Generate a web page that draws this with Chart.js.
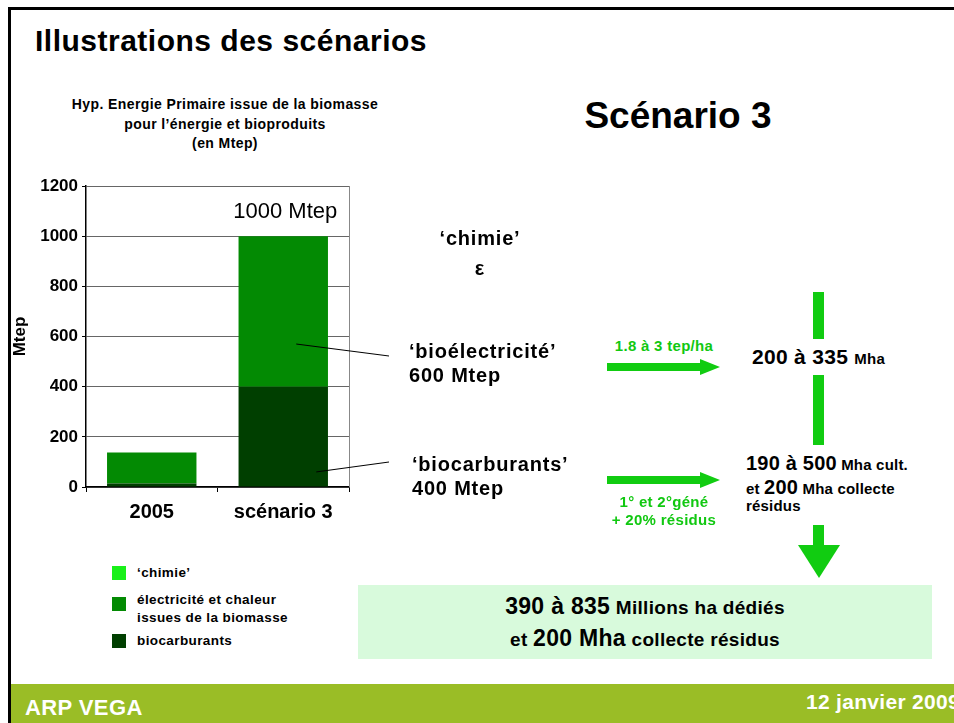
<!DOCTYPE html>
<html lang="fr">
<head>
<meta charset="utf-8">
<script src="https://cdn.jsdelivr.net/npm/chart.js@4.4.1/dist/chart.umd.min.js"></script>
<style>
  html, body { margin: 0; padding: 0; background: #fff; }
  body { width: 954px; height: 723px; position: relative; overflow: hidden; font-family: 'Liberation Sans', Arial, sans-serif; font-weight: bold; color: #000; }
  .abs { position: absolute; white-space: nowrap; }
  .frameTop { left: 8px; top: 7px; width: 946px; height: 3px; background: #000; }
  .frameLeft { left: 8px; top: 7px; width: 3px; height: 716px; background: #000; }
  .footer { left: 11px; top: 684px; width: 943px; height: 39px; background: #9abd26; color: #fff; }
  .title { left: 35px; top: 24px; font-size: 30px; letter-spacing: 0.5px; }
  .sub { left: 30px; top: 95px; width: 390px; text-align: center; font-size: 14px; letter-spacing: 0.4px; line-height: 19.5px; }
  .scen { left: 560px; top: 95px; width: 236px; text-align: center; font-size: 37px; }
  .big { font-size: 20px; letter-spacing: 0.8px; }
  .green { color: #11c811; letter-spacing: 0.3px; }
  .shaft { background: #11cc11; }
  #wrap { position: absolute; left: 0; top: 170px; width: 420px; height: 360px; }
  .legend { left: 112px; font-size: 13.5px; letter-spacing: 0.4px; }
  .sw { position: absolute; left: 0; width: 14px; height: 14px; }
  .box { left: 358px; top: 585px; width: 574px; height: 74px; background: #d8fadc; text-align: center; font-size: 19px; line-height: 31px; padding-top: 6px; box-sizing: border-box; letter-spacing: 0.3px; }
  .box b { font-size: 23px; }
</style>
</head>
<body>
<div class="abs frameTop"></div>
<div class="abs frameLeft"></div>
<div class="abs title">Illustrations des scénarios</div>
<div class="abs sub">Hyp. Energie Primaire issue de la biomasse<br>pour l’énergie et bioproduits<br>(en Mtep)</div>
<div class="abs scen">Scénario 3</div>

<div id="wrap"><canvas id="chart" width="420" height="360"></canvas></div>

<div class="abs" style="left:415px; top:223px; width:130px; text-align:center; font-size:20px; letter-spacing:0.8px; line-height:30px;">‘chimie’<br>ε</div>
<div class="abs big" style="left:409px; top:339px; line-height:24px;">‘bioélectricité’<br>600 Mtep</div>
<div class="abs big" style="left:412px; top:452px; line-height:24px;">‘biocarburants’<br>400 Mtep</div>

<div class="abs green" style="left:600px; top:337px; width:128px; text-align:center; font-size:15px;">1.8 à 3 tep/ha</div>
<div class="abs shaft" style="left:607px; top:363px; width:94px; height:8px;"></div>
<div class="abs" style="left:700px; top:359px; width:0; height:0; border-top:8px solid transparent; border-bottom:8px solid transparent; border-left:20px solid #11cc11;"></div>

<div class="abs shaft" style="left:607px; top:476px; width:94px; height:8px;"></div>
<div class="abs" style="left:700px; top:472px; width:0; height:0; border-top:8px solid transparent; border-bottom:8px solid transparent; border-left:20px solid #11cc11;"></div>
<div class="abs green" style="left:595px; top:493px; width:138px; text-align:center; font-size:15px; line-height:18px;">1° et 2°géné<br>+ 20% résidus</div>

<div class="abs shaft" style="left:813px; top:292px; width:11px; height:47px;"></div>
<div class="abs" style="left:752px; top:345px; font-size:21px; letter-spacing:0.3px;">200 à 335 <span style="font-size:15px;">Mha</span></div>
<div class="abs shaft" style="left:813px; top:375px; width:11px; height:70px;"></div>
<div class="abs" style="left:746px; top:452px; font-size:15px; line-height:22px; letter-spacing:0.2px;"><span style="font-size:20px;">190 à 500</span> Mha cult.<br>et <span style="font-size:20px;">200</span> Mha collecte<br><span style="position:relative; top:-5px;">résidus</span></div>
<div class="abs shaft" style="left:813px; top:525px; width:11px; height:20px;"></div>
<div class="abs" style="left:798px; top:545px; width:0; height:0; border-left:21px solid transparent; border-right:21px solid transparent; border-top:33px solid #11cc11;"></div>

<div class="abs box"><b>390 à 835</b> Millions ha dédiés<br>et <b>200 Mha</b> collecte résidus</div>

<div id="legend"></div>

<div class="abs footer">
  <div class="abs" style="left:14px; top:11px; font-size:22px; letter-spacing:0.4px;">ARP VEGA</div>
  <div class="abs" style="left:795px; top:6px; font-size:21px; letter-spacing:0.3px;">12 janvier 2009</div>
</div>

<script>
const categories = ['2005', 'scénario 3'];
const biocarburants = [14, 400];
const electricite = [124, 600];
const chimie = [0, 0];
const yTicks = [0, 200, 400, 600, 800, 1000, 1200];
const totalLabel = '1000 Mtep';

const colors = {
  chimie: '#19f019',
  elec: '#038a03',
  bio: '#003f00'
};

const legendItems = [
  { text: '‘chimie’', color: colors.chimie, top: 566 },
  { text: 'électricité et chaleur<br>issues de la biomasse', color: colors.elec, top: 593 },
  { text: 'biocarburants', color: colors.bio, top: 634 }
];
const legendEl = document.getElementById('legend');
legendItems.forEach(item => {
  const d = document.createElement('div');
  d.className = 'abs legend';
  d.style.top = item.top + 'px';
  d.innerHTML = '<span class="sw" style="background:' + item.color + '; top:' + (item.text.includes('<br>') ? 4 : 0) + 'px"></span>' +
    '<span style="position:absolute; left:25px; top:-2px; line-height:18px;">' + item.text + '</span>';
  legendEl.appendChild(d);
});

// frame on right of plot + leader lines + total label
const extras = {
  id: 'extras',
  afterDraw(chart) {
    const { ctx, chartArea, scales } = chart;
    const x = scales.x, y = scales.y;
    ctx.save();
    ctx.strokeStyle = '#888';
    ctx.lineWidth = 1;
    ctx.beginPath();
    ctx.moveTo(chartArea.right + 0.5, chartArea.top);
    ctx.lineTo(chartArea.right + 0.5, chartArea.bottom);
    ctx.stroke();

    ctx.strokeStyle = '#000';
    ctx.beginPath();
    ctx.moveTo(x.getPixelForValue(1) + 13, y.getPixelForValue(570));
    ctx.lineTo(389, 186);
    ctx.moveTo(x.getPixelForValue(1) + 33, y.getPixelForValue(60));
    ctx.lineTo(389, 292);
    ctx.stroke();

    const total = biocarburants[1] + electricite[1] + chimie[1];
    ctx.fillStyle = '#000';
    ctx.font = '22px "Liberation Sans", Arial, sans-serif';
    ctx.textAlign = 'center';
    ctx.textBaseline = 'middle';
    ctx.fillText(totalLabel, x.getPixelForValue(1) + 2, y.getPixelForValue(total) - 24);
    ctx.restore();
  }
};

const tickFont = { family: 'Liberation Sans', size: 17, weight: 'bold' };

new Chart(document.getElementById('chart'), {
  type: 'bar',
  data: {
    labels: categories,
    datasets: [
      { label: 'biocarburants', data: biocarburants, backgroundColor: colors.bio },
      { label: 'électricité et chaleur issues de la biomasse', data: electricite, backgroundColor: colors.elec },
      { label: '‘chimie’', data: chimie, backgroundColor: colors.chimie }
    ]
  },
  options: {
    responsive: false,
    animation: false,
    events: [],
    layout: { padding: { left: 0, right: 71, top: 16, bottom: 0 } },
    datasets: { bar: { barPercentage: 0.68, categoryPercentage: 1 } },
    plugins: { legend: { display: false }, tooltip: { enabled: false } },
    scales: {
      x: {
        stacked: true,
        afterFit: s => { s.height = 43; },
        border: { color: '#000', width: 1.5 },
        grid: { display: true, drawOnChartArea: false, offset: true, color: '#000', tickLength: 5 },
        ticks: { color: '#000', font: { ...tickFont, size: 20 }, padding: 8 }
      },
      y: {
        stacked: true,
        min: 0,
        max: 1200,
        afterFit: s => { s.width = 86; },
        afterBuildTicks: s => { s.ticks = yTicks.map(v => ({ value: v })); },
        border: { color: '#000', width: 1.5 },
        grid: { color: '#666', lineWidth: 1, tickLength: 4, tickColor: '#000' },
        ticks: { color: '#000', font: tickFont, padding: 4, callback: v => String(v) },
        title: { display: true, text: 'Mtep', color: '#000', font: tickFont, padding: { top: 10, bottom: 0 } }
      }
    }
  },
  plugins: [extras]
});
</script>
</body>
</html>
